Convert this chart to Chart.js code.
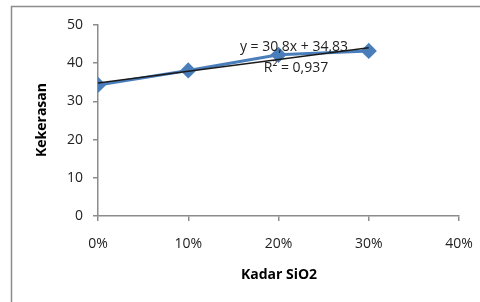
<!DOCTYPE html>
<html>
<head>
<meta charset="utf-8">
<script src="https://cdn.jsdelivr.net/npm/chart.js@4.4.1/dist/chart.umd.min.js"></script>
<style>
  html, body { margin: 0; padding: 0; background: #fff; }
  #wrap { width: 480px; height: 302px; position: relative; }
</style>
</head>
<body>
<div id="wrap"><canvas id="chartId"></canvas></div>
<script>
// data
const kadar = [0, 0.1, 0.2, 0.3];
const kekerasan = [34.3, 38.1, 42.2, 43.2];
const trendX = [0, 0.3];
const trendY = [34.83, 44.07];
const xTicks = [0, 0.1, 0.2, 0.3, 0.4];
const yTicks = [0, 10, 20, 30, 40, 50];
const eqText = 'y = 30,8x + 34,83';
const r2Text = 'R² = 0,937';

const tickFont = { family: 'Open Sans', size: 14 };

// frame + titles + equation
const extras = {
  id: 'extras',
  afterDraw(chart) {
    const c = chart.ctx;
    c.save();
    c.strokeStyle = '#8c8c8c';
    c.lineWidth = 1.5;
    c.beginPath();
    c.moveTo(11.5, 302);
    c.lineTo(11.5, 6.5);
    c.lineTo(480, 6.5);
    c.stroke();

    c.fillStyle = '#000';
    c.font = 'bold 14px "Open Sans"';
    c.textAlign = 'center';
    c.textBaseline = 'middle';
    c.fillText('Kadar SiO2', 279, 275);
    c.save();
    c.translate(42, 120);
    c.rotate(-Math.PI / 2);
    c.fillText('Kekerasan', 0, 0);
    c.restore();

    c.font = '14px "Open Sans"';
    c.fillStyle = '#222';
    c.fillText(eqText, 294, 47);
    c.fillText(r2Text, 296, 68);
    c.restore();
  }
};

const ctx = document.getElementById('chartId').getContext('2d');
const chart = new Chart(ctx, {
  type: 'scatter',
  data: {
    datasets: [{
      label: 'Kekerasan',
      data: kadar.map((x, i) => ({ x: x, y: kekerasan[i] })),
      showLine: true,
      borderColor: '#4a7ebb',
      backgroundColor: '#4a7ebb',
      borderWidth: 3,
      pointStyle: 'rectRot',
      pointRadius: 6,
      pointHoverRadius: 6,
      order: 1
    }, {
      label: 'Trend',
      data: trendX.map((x, i) => ({ x: x, y: trendY[i] })),
      showLine: true,
      borderColor: '#1a1a1a',
      borderWidth: 1.5,
      pointRadius: 0,
      order: 0
    }]
  },
  options: {
    responsive: true,
    maintainAspectRatio: false,
    animation: false,
    layout: { padding: { left: 0, right: 21, top: 25, bottom: 0 } },
    plugins: { legend: { display: false }, tooltip: { enabled: false } },
    scales: {
      x: {
        type: 'linear',
        min: 0,
        max: 0.4,
        afterBuildTicks: (s) => { s.ticks = xTicks.map(v => ({ value: v })); },
        afterFit: (s) => { s.height = 86; s.paddingRight = 0; s.paddingLeft = 0; },
        border: { color: '#8c8c8c', width: 1.5 },
        grid: { drawOnChartArea: false, tickLength: 5, color: '#8c8c8c', lineWidth: 1.5 },
        ticks: {
          font: tickFont,
          color: '#222',
          padding: 15,
          maxRotation: 0,
          callback: (v) => Math.round(v * 100) + '%'
        }
      },
      y: {
        min: 0,
        max: 50,
        afterBuildTicks: (s) => { s.ticks = yTicks.map(v => ({ value: v })); },
        afterFit: (s) => { s.width = 98; },
        border: { color: '#8c8c8c', width: 1.5 },
        grid: { drawOnChartArea: false, tickLength: 5, color: '#8c8c8c', lineWidth: 1.5 },
        ticks: { font: tickFont, color: '#222', padding: 10 }
      }
    }
  },
  plugins: [extras]
});
</script>
</body>
</html>
